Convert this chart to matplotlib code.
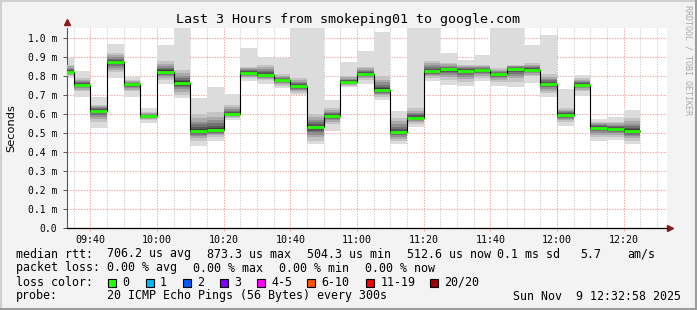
import matplotlib
matplotlib.use('Agg')
import matplotlib.pyplot as plt
import matplotlib.dates as mdates
from matplotlib.patches import Rectangle
from matplotlib.lines import Line2D
import pandas as pd

W, H = 697, 310

# 5 minute slots, median rtt and smoke range (ms)
slot_start = pd.date_range('2025-11-09 09:30', periods=35, freq='5min')
med = [0.823, 0.754, 0.617, 0.875, 0.756, 0.589, 0.823, 0.765, 0.512, 0.516,
       0.598, 0.818, 0.807, 0.779, 0.747, 0.530, 0.589, 0.770, 0.812, 0.726,
       0.504, 0.581, 0.826, 0.837, 0.828, 0.832, 0.810, 0.839, 0.832, 0.758,
       0.595, 0.753, 0.528, 0.521, 0.511]
lo = [0.790, 0.690, 0.525, 0.788, 0.690, 0.554, 0.760, 0.686, 0.433, 0.460,
      0.568, 0.774, 0.756, 0.735, 0.700, 0.440, 0.512, 0.740, 0.760, 0.674,
      0.442, 0.533, 0.774, 0.753, 0.747, 0.774, 0.749, 0.744, 0.765, 0.688,
      0.539, 0.695, 0.460, 0.463, 0.442]
hi = [0.893, 0.826, 0.690, 0.968, 0.793, 0.630, 0.963, 1.060, 0.686, 0.740,
      0.703, 0.946, 0.898, 0.893, 1.060, 1.060, 0.674, 0.872, 0.932, 1.030,
      0.616, 1.060, 1.060, 0.923, 0.884, 0.910, 1.060, 1.060, 0.963, 1.016,
      0.730, 0.805, 0.574, 0.586, 0.621]
in_lo = [0.800, 0.720, 0.560, 0.820, 0.720, 0.570, 0.780, 0.700, 0.460, 0.480,
         0.580, 0.790, 0.780, 0.750, 0.710, 0.460, 0.550, 0.750, 0.780, 0.690,
         0.460, 0.550, 0.790, 0.780, 0.770, 0.790, 0.770, 0.770, 0.800, 0.710,
         0.560, 0.720, 0.480, 0.480, 0.460]
in_hi = [0.860, 0.790, 0.650, 0.920, 0.780, 0.610, 0.880, 0.830, 0.600, 0.610,
         0.650, 0.850, 0.860, 0.810, 0.790, 0.600, 0.630, 0.800, 0.850, 0.800,
         0.580, 0.630, 0.880, 0.870, 0.860, 0.860, 0.840, 0.860, 0.870, 0.810,
         0.630, 0.790, 0.560, 0.560, 0.580]

yticks = [0.0, 0.1, 0.2, 0.3, 0.4, 0.5, 0.6, 0.7, 0.8, 0.9, 1.0]
loss_labels = ['0', '1', '2', '3', '4-5', '6-10', '11-19', '20/20']
loss_colors = ['#26ff00', '#00b8ff', '#0059ff', '#7e00ff', '#ff00ff',
               '#ff5500', '#ff0000', '#a10000']

mono = 'DejaVu Sans Mono'
bg = '#f3f3f3'

fig = plt.figure(figsize=(W / 100, H / 100), dpi=100, facecolor=bg)
ax = fig.add_axes([67 / W, 1 - 228 / H, 600 / W, 200 / H])
ax.set_facecolor('white')

t0 = pd.Timestamp('2025-11-09 09:32:58')
t1 = pd.Timestamp('2025-11-09 12:32:58')
ax.set_xlim(t0, t1)
ax.set_ylim(0, 1.053)

# grid
minor = pd.date_range('2025-11-09 09:35', '2025-11-09 12:30', freq='5min')
for t in minor:
    if t.minute % 20 == 0:
        ax.axvline(t, color='#f4a0a0', lw=0.7, ls=(0, (1.4, 1.4)), zorder=1)
    else:
        ax.axvline(t, color='#cccccc', lw=0.7, ls=(0, (1.4, 1.4)), zorder=1)
for v in yticks[1:]:
    ax.axhline(v, color='#f4a0a0', lw=0.7, ls=(0, (1.4, 1.4)), zorder=1)

# smoke
width = 5 / 1440
x = mdates.date2num(slot_start)
ax.bar(x, [h - l for h, l in zip(hi, lo)], bottom=lo, width=width,
       align='edge', color='#dcdcdc', lw=0, zorder=2)
fracs = [1.0, 0.75, 0.55, 0.38, 0.24, 0.12]
shades = ['#c4c4c4', '#aaaaaa', '#8f8f8f', '#737373', '#585858', '#3e3e3e']
for f, c in zip(fracs, shades):
    b = [m - (m - l) * f for m, l in zip(med, in_lo)]
    t = [m + (h - m) * f for m, h in zip(med, in_hi)]
    ax.bar(x, [tt - bb for tt, bb in zip(t, b)], bottom=b, width=width,
           align='edge', color=c, lw=0, zorder=3)

# median
xs = list(x) + [x[-1] + width]
ax.step(xs, med + [med[-1]], where='post', color='black', lw=0.8, zorder=4)
ax.hlines(med, x, x + width, color='#26ff00', lw=2.0, zorder=5)

# axes
for s in ['top', 'right']:
    ax.spines[s].set_visible(False)
ax.spines['left'].set_color('#555555')
ax.spines['bottom'].set_color('black')
ax.spines['left'].set_linewidth(0.8)
ax.spines['bottom'].set_linewidth(0.9)
ax.plot([1.005], [0], marker='>', color='#8b1a1a', ms=4, transform=ax.transAxes, clip_on=False)
ax.plot([0], [1.03], marker='^', color='#8b1a1a', ms=4, transform=ax.transAxes, clip_on=False)

ax.set_yticks(yticks)
ax.set_yticklabels(['0.0'] + ['%.1f m' % v for v in yticks[1:]], family=mono, fontsize=7)
ax.xaxis.set_major_locator(mdates.MinuteLocator(byminute=[0, 20, 40]))
ax.xaxis.set_major_formatter(mdates.DateFormatter('%H:%M'))
for lab in ax.get_xticklabels():
    lab.set_family(mono)
    lab.set_fontsize(7.2)
ax.tick_params(axis='y', length=3, width=0.7, color='#555555', pad=4)
ax.tick_params(axis='x', length=2, width=0.7, color='#f4a0a0', pad=3)

ax.set_ylabel('Seconds', fontsize=8.2, family='DejaVu Sans')
ax.yaxis.set_label_coords(-51 / 600, 0.5)

def ftxt(px, py, s, **kw):
    kw.setdefault('family', mono)
    kw.setdefault('fontsize', 8.4)
    kw.setdefault('va', 'center')
    fig.text(px / W, 1 - py / H, s, **kw)

ftxt(348, 19, 'Last 3 Hours from smokeping01 to google.com', fontsize=9.6, ha='center')
ftxt(688, 60, 'RRDTOOL / TOBI OETIKER', fontsize=6, color='#aaaaaa',
     rotation=270, ha='center')

row1 = [(16, 'median rtt:'), (107, '706.2 us avg'), (207, '873.3 us max'),
        (307, '504.3 us min'), (407, '512.6 us now'), (497, '0.1 ms sd'),
        (580, '5.7'), (627, 'am/s')]
for px, s in row1:
    ftxt(px, 254, s)
row2 = [(16, 'packet loss:'), (107, '0.00 % avg'), (193, '0.00 % max'),
        (279, '0.00 % min'), (365, '0.00 % now')]
for px, s in row2:
    ftxt(px, 268, s)
ftxt(16, 282, 'loss color:')
box_x = [108, 145.5, 182.5, 219.5, 256.5, 307, 366, 430]
for bx, lab, c in zip(box_x, loss_labels, loss_colors):
    fig.add_artist(Rectangle((bx / W, 1 - 286.5 / H), 8 / W, 8 / H,
                             facecolor=c, edgecolor='black', lw=0.8,
                             transform=fig.transFigure))
    ftxt(bx + 14.5, 282, lab)
ftxt(16, 296, 'probe:')
ftxt(107, 296, '20 ICMP Echo Pings (56 Bytes) every 300s')
ftxt(513, 296, 'Sun Nov  9 12:32:58 2025')

# frame
fig.add_artist(Line2D([0, 1], [1 - 1 / H, 1 - 1 / H], color='#d0d0d0', lw=1.5, transform=fig.transFigure))
fig.add_artist(Line2D([1 / W, 1 / W], [0, 1], color='#d0d0d0', lw=1.5, transform=fig.transFigure))
fig.add_artist(Line2D([0, 1], [1.5 / H, 1.5 / H], color='#9c9c9c', lw=2.2, transform=fig.transFigure))
fig.add_artist(Line2D([1 - 1.5 / W, 1 - 1.5 / W], [0, 1], color='#9c9c9c', lw=2.2, transform=fig.transFigure))

fig.savefig('out.png', dpi=100, facecolor=bg)
